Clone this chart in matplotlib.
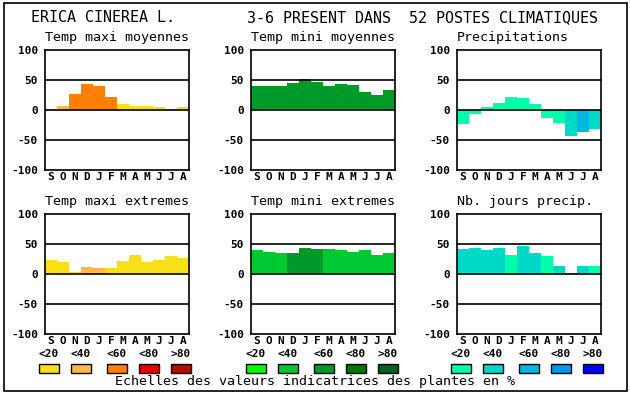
import matplotlib
matplotlib.use('Agg')
import matplotlib.pyplot as plt
from matplotlib.patches import Rectangle

plt.rcParams['font.family'] = ['DejaVu Sans Mono']

months = ['S', 'O', 'N', 'D', 'J', 'F', 'M', 'A', 'M', 'J', 'J', 'A']
classes = ['<20', '<40', '<60', '<80', '>80']

# colour scales (index = class of indicator value)
temp_colors = ['#f8e018', '#ffb850', '#ff8000', '#e80000', '#b00c00']
mini_colors = ['#00ff00', '#00c832', '#009a2a', '#007800', '#006020']
prec_colors = ['#00ffaa', '#00d8c8', '#00b8e0', '#0098e8', '#0000ff']

tmax_moy = [2, 7, 27, 44, 40, 22, 10, 7, 7, 5, 2, 5]
tmax_moy_cls = [0, 1, 2, 2, 2, 2, 0, 0, 0, 0, 0, 0]

tmin_moy = [40, 40, 40, 45, 52, 47, 40, 43, 42, 30, 25, 33]
tmin_moy_cls = [2] * 12

precip = [-24, -6, 5, 12, 22, 20, 10, -13, -21, -44, -36, -31]
precip_cls = [0, 0, 0, 0, 0, 0, 0, 0, 0, 1, 2, 1]

tmax_ext = [23, 20, 3, 12, 10, 10, 22, 32, 20, 23, 30, 27]
tmax_ext_cls = [0, 0, 0, 1, 1, 0, 0, 0, 0, 0, 0, 0]

tmin_ext = [40, 37, 35, 35, 43, 42, 42, 40, 37, 40, 32, 35]
tmin_ext_cls = [1, 1, 1, 2, 2, 2, 1, 1, 1, 1, 1, 1]

nb_jours = [42, 43, 40, 43, 32, 47, 35, 30, 13, 2, 13, 13]
nb_jours_cls = [1, 1, 1, 1, 0, 1, 1, 0, 1, 1, 1, 0]

panels = [
    ("Temp maxi moyennes", tmax_moy, tmax_moy_cls, temp_colors),
    ("Temp mini moyennes", tmin_moy, tmin_moy_cls, mini_colors),
    ("Precipitations", precip, precip_cls, prec_colors),
    ("Temp maxi extremes", tmax_ext, tmax_ext_cls, temp_colors),
    ("Temp mini extremes", tmin_ext, tmin_ext_cls, mini_colors),
    ("Nb. jours precip.", nb_jours, nb_jours_cls, prec_colors),
]

W, H = 630, 394
fig = plt.figure(figsize=(W / 100, H / 100), dpi=100)
fig.patch.set_facecolor('white')

# outer frame
fig.patches.append(Rectangle((4 / W, 3 / H), 623 / W, 388 / H, transform=fig.transFigure,
                             fill=False, edgecolor='black', linewidth=1.2))

fig.text(31 / W, 1 - 18 / H, "ERICA CINEREA L.", fontsize=10.8, va='center', ha='left')
fig.text(247 / W, 1 - 18 / H, "3-6 PRESENT DANS  52 POSTES CLIMATIQUES", fontsize=10.8,
         va='center', ha='left')

lefts = [45, 251, 457]
tops = [50, 214]

for k, (title, vals, cls, cols) in enumerate(panels):
    x0 = lefts[k % 3]
    y0 = tops[k // 3]
    ax = fig.add_axes([x0 / W, 1 - (y0 + 120) / H, 144 / W, 120 / H])
    ax.bar([i + 0.5 for i in range(12)], vals, width=1.0,
           color=[cols[c] for c in cls], linewidth=0)
    for y in (50, 0, -50):
        ax.axhline(y, color='black', linewidth=1.2)
    ax.set_xlim(0, 12)
    ax.set_ylim(-100, 100)
    ax.set_yticks([100, 50, 0, -50, -100])
    ax.set_yticklabels(['100', '50', '0', '-50', '-100'], fontsize=8, fontweight='bold')
    ax.set_xticks([i + 0.5 for i in range(12)])
    ax.set_xticklabels(months, fontsize=8, fontweight='bold')
    ax.tick_params(axis='y', length=0, pad=5)
    ax.tick_params(axis='x', length=0, pad=1.5)
    for s in ax.spines.values():
        s.set_linewidth(1.2)
    fig.text(x0 / W, 1 - (y0 - 12) / H, title, fontsize=9.6, va='center', ha='left')

# legends
group_starts = [39, 246, 451]
offsets = [0, 32, 68, 100, 132]
for g, cols in zip(group_starts, [temp_colors, mini_colors, prec_colors]):
    for off, col, lab in zip(offsets, cols, classes):
        bx = g + off
        fig.patches.append(Rectangle((bx / W, 1 - 373 / H), 20 / W, 9 / H,
                                     transform=fig.transFigure, facecolor=col,
                                     edgecolor='black', linewidth=1))
        fig.text((bx + 10) / W, 1 - 354 / H, lab, fontsize=8, fontweight='bold',
                 ha='center', va='center')

fig.text(315 / W, 1 - 382 / H, "Echelles des valeurs indicatrices des plantes en %",
         fontsize=9.6, ha='center', va='center')

fig.savefig('out.png', dpi=100)
